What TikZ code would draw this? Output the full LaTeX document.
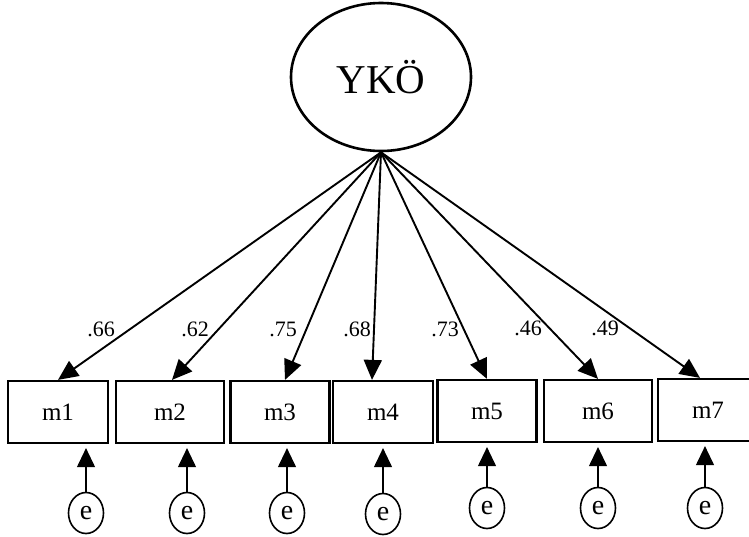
\documentclass[tikz,border=0pt]{standalone}
\usepackage{fontspec}
\setmainfont{Liberation Serif}
\usetikzlibrary{arrows.meta,calc,shapes.geometric}

\begin{document}
\begin{tikzpicture}[x=1pt,y=-1pt,
  latent/.style={draw, ellipse, line width=2.6pt, minimum width=180pt, minimum height=148pt, inner sep=0pt, font=\fontsize{41}{46}\selectfont},
  item/.style={draw, line width=2.2pt, minimum height=62pt, inner sep=0pt, font=\fontsize{25}{28}\selectfont},
  err/.style={draw, ellipse, line width=1.6pt, minimum width=35pt, minimum height=41pt, inner sep=0pt, font=\fontsize{28}{30}\selectfont},
  load/.style={-{Triangle[length=20pt,width=18pt]}, line width=1.9pt},
  res/.style={-{Triangle[length=19pt,width=18pt]}, line width=1.1pt, shorten >=4pt},
  coef/.style={inner sep=0pt, font=\fontsize{22}{24}\selectfont}]
\useasboundingbox (0,0) rectangle (749,536);
\node[latent] (yko) at (381,77) {YKÖ};
% observed items
\node[item, minimum width=100pt] (m1) at (58,412) {m1};
\node[item, minimum width=108pt] (m2) at (170,412) {m2};
\node[item, minimum width=99pt] (m3) at (280,412) {m3};
\node[item, minimum width=100pt] (m4) at (383,412) {m4};
\node[item, minimum width=99pt] (m5) at (487,411) {m5};
\node[item, minimum width=108pt] (m6) at (598,411) {m6};
\node[item, minimum width=100pt] (m7) at (708,410) {m7};
% error terms
\node[err] (e1) at (86,513) {e};
\node[err] (e2) at (187,513) {e};
\node[err] (e3) at (287,513) {e};
\node[err] (e4) at (383,514) {e};
\node[err] (e5) at (487,508) {e};
\node[err] (e6) at (598,508) {e};
\node[err] (e7) at (705,508) {e};
% loadings
\draw[load] (yko.south) -- (m1.north);
\draw[load] (yko.south) -- ([xshift=2pt]m2.north);
\draw[load] (yko.south) -- ([xshift=5pt]m3.north);
\draw[load] (yko.south) -- ([xshift=-11pt]m4.north);
\draw[load] (yko.south) -- (m5.north);
\draw[load] (yko.south) -- (m6.north);
\draw[load] (yko.south) -- ([xshift=-8pt]m7.north);
\node[coef] (l1) at (101,329) {.66};
\node[coef] (l2) at (195,329) {.62};
\node[coef] (l3) at (283,329) {.75};
\node[coef] (l4) at (357,329) {.68};
\node[coef] (l5) at (445,329) {.73};
\node[coef] (l6) at (528,328) {.46};
\node[coef] (l7) at (605,328) {.49};
\draw[res] (e1) -- (e1 |- m1.south);
\draw[res] (e2) -- (e2 |- m2.south);
\draw[res] (e3) -- (e3 |- m3.south);
\draw[res] (e4) -- (e4 |- m4.south);
\draw[res] (e5) -- (e5 |- m5.south);
\draw[res] (e6) -- (e6 |- m6.south);
\draw[res] (e7) -- (e7 |- m7.south);
\end{tikzpicture}
\end{document}
